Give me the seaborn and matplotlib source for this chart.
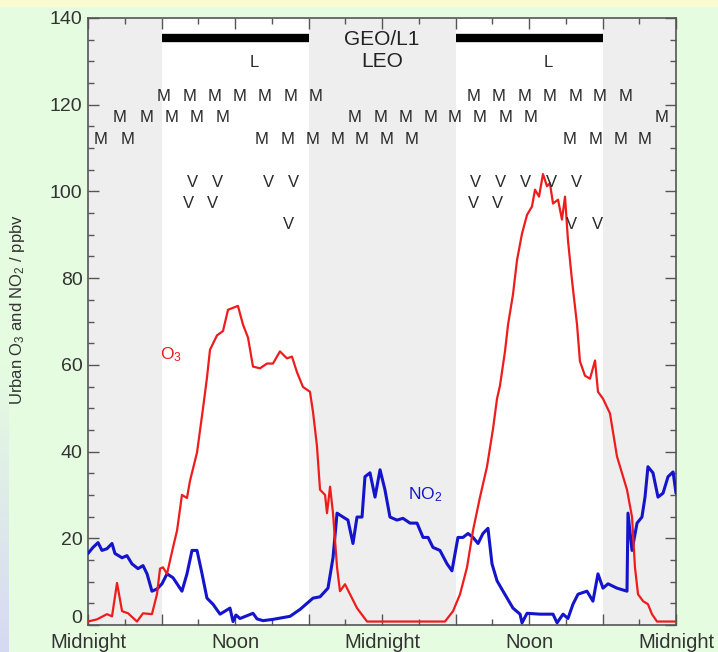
import numpy as np
import pandas as pd
import matplotlib
matplotlib.use("Agg")
import matplotlib.pyplot as plt
import seaborn as sns

# ---------------- data (hours from first midnight, ppbv) ----------------
o3_hours = [0, 0.73, 1.55, 1.96, 2.37, 2.78, 3.27, 4.0, 4.49, 5.22, 5.63, 5.88, 6.12, 6.45,
            6.94, 7.27, 7.67, 8.08, 8.33, 8.9, 9.39, 9.71, 9.96, 10.53, 11.02, 11.43, 12.24,
            12.65, 13.06, 13.47, 14.04, 14.61, 15.1, 15.67, 16.24, 16.65, 17.06, 17.55, 18.12,
            18.37, 18.69, 18.94, 19.35, 19.51, 19.76, 20.0, 20.33, 20.57, 20.98, 21.39, 21.96,
            22.78, 29.14, 29.8, 30.37, 30.94, 31.43, 32.0, 32.57, 33.06, 33.39, 33.63, 34.04,
            34.29, 34.69, 35.02, 35.43, 35.84, 36.24, 36.49, 36.82, 37.14, 37.47, 37.71, 37.96,
            38.37, 38.69, 38.94, 39.18, 39.51, 39.92, 40.16, 40.57, 40.98, 41.39, 41.63, 42.04,
            42.61, 43.18, 44.0, 44.41, 44.65, 44.9, 45.31, 45.71, 46.04, 46.45, 48.0]
o3_values = [0.8, 1.3, 2.5, 2.0, 9.7, 3.2, 2.7, 0.8, 2.7, 2.5, 7.1, 13.0, 13.3, 11.8,
             17.9, 21.8, 30.0, 29.3, 33.3, 39.8, 50.0, 57.0, 63.5, 66.8, 67.8, 72.7, 73.6,
             69.3, 66.3, 59.6, 59.2, 60.3, 60.3, 63.1, 61.5, 61.9, 58.3, 54.9, 53.8,
             49.1, 41.3, 31.2, 30.0, 25.8, 31.9, 25.8, 13.3, 7.8, 9.4, 7.1, 3.9,
             0.8, 0.8, 3.2, 7.1, 13.3, 21.8, 29.5, 36.5, 45.2, 52.2, 55.2, 63.1,
             69.3, 76.2, 84.1, 90.3, 94.6, 96.5, 100.4, 98.8, 104.0, 101.2, 101.9, 97.2,
             98.1, 93.5, 98.8, 88.8, 79.5, 69.3, 60.8, 57.5, 56.8, 61.0, 53.8, 52.2,
             48.8, 38.9, 31.2, 24.9, 13.3, 7.1, 5.5, 4.8, 2.5, 0.8, 0.8]

no2_hours = [0, 0.41, 0.82, 1.14, 1.55, 1.96, 2.2, 2.78, 3.18, 3.59, 4.08, 4.49, 4.82, 5.22,
             5.63, 6.04, 6.45, 6.94, 7.67, 8.08, 8.49, 8.9, 9.31, 9.71, 10.2, 10.78, 11.59,
             11.84, 12.08, 12.41, 13.47, 13.8, 14.29, 15.1, 16.49, 17.31, 18.37, 18.94, 19.59,
             20.0, 20.33, 20.82, 21.22, 21.63, 21.96, 22.37, 22.61, 23.02, 23.43, 23.84, 24.24,
             24.65, 25.22, 25.71, 26.29, 26.86, 27.35, 27.76, 28.16, 28.73, 29.31, 29.71, 30.2,
             30.61, 31.02, 31.43, 31.84, 32.24, 32.65, 32.98, 33.39, 33.88, 34.69, 35.27, 35.43,
             35.84, 36.9, 37.96, 38.29, 38.78, 39.18, 39.59, 40.0, 40.73, 41.22, 41.63, 42.04,
             42.45, 43.18, 44.0, 44.08, 44.41, 44.82, 45.22, 45.47, 45.71, 46.12, 46.53, 46.94,
             47.35, 47.76, 48.0]
no2_values = [16.5, 17.9, 19.0, 17.2, 17.6, 18.8, 16.5, 15.5, 16.0, 14.1, 13.0, 13.7, 11.8, 7.8,
              8.3, 9.5, 11.8, 10.9, 7.8, 11.8, 17.2, 17.2, 11.8, 6.2, 4.8, 2.5, 3.9,
              0.8, 2.3, 1.5, 2.7, 1.4, 1.0, 1.3, 2.0, 3.6, 6.2, 6.5, 8.5,
              15.5, 25.8, 24.9, 24.2, 18.8, 24.9, 24.9, 34.2, 35.1, 29.5, 35.8, 31.2,
              24.9, 24.2, 24.6, 23.5, 23.5, 20.2, 20.2, 17.9, 17.2, 14.1, 12.5, 20.2,
              20.2, 21.1, 20.2, 18.8, 21.1, 22.3, 14.1, 10.2, 7.8, 3.9, 2.5, 0.5,
              2.7, 2.5, 2.5, 0.5, 2.5, 1.5, 4.8, 7.1, 7.8, 5.5, 11.8, 8.5,
              9.5, 8.5, 7.8, 25.8, 17.2, 23.5, 24.9, 29.5, 36.5, 35.1, 29.5, 30.4,
              34.2, 35.3, 30.4]

night_start = [0, 18, 42]
night_end = [6, 30, 48]
geo_bar_start = [6, 30]
geo_bar_end = [18, 42]
tick_label_hours = [0, 12, 24, 36, 48]
tick_label_text = ["Midnight", "Noon", "Midnight", "Noon", "Midnight"]
y_tick_values = [0, 20, 40, 60, 80, 100, 120, 140]

m_row1 = [6.2, 8.25, 10.35, 12.4, 14.45, 16.5, 18.6, 31.5, 33.55, 35.65, 37.7, 39.8, 41.8, 43.85]
m_row2 = [2.6, 4.75, 6.85, 8.9, 11.0, 21.8, 23.85, 25.95, 28.0, 29.95, 32.0, 34.05, 36.1, 46.85]
m_row3 = [1.0, 3.2, 14.2, 16.25, 18.3, 20.35, 22.35, 24.4, 26.45, 39.35, 41.4, 43.45, 45.45]
v_row1 = [8.5, 10.55, 14.7, 16.75, 31.65, 33.7, 35.75, 37.85, 39.9]
v_row2 = [8.2, 10.2, 31.45, 33.4]
v_row3 = [16.35, 39.5, 41.55]
l_marks = [13.55, 37.55]

# ---------------- style ----------------
sns.set_theme(style="ticks")
plt.rcParams["font.family"] = ["Liberation Sans", "DejaVu Sans"]
plt.rcParams["mathtext.fontset"] = "custom"
plt.rcParams["mathtext.rm"] = "Liberation Sans"
plt.rcParams["mathtext.it"] = "Liberation Sans"

W, H = 718, 652
fig = plt.figure(figsize=(W / 100, H / 100), dpi=100)

# background (mint with yellow top strip and lavender left-bottom edge)
bg = fig.add_axes([0, 0, 1, 1], zorder=-10)
img = np.zeros((H, W, 3))
mint = np.array([0.90, 0.99, 0.88])
yellow = np.array([0.98, 0.99, 0.82])
lav = np.array([0.84, 0.85, 0.95])
img[:] = mint
img[:7, :] = yellow
t = np.clip((np.arange(H) - 360) / (H - 360), 0, 1)[:, None]
col = (1 - t) * mint + t * lav
img[:, :9] = col[:, None, :]
img[:7, :9] = yellow
bg.imshow(img, aspect="auto", extent=[0, 1, 0, 1])
bg.axis("off")

ax = fig.add_axes([88 / W, 1 - 625 / H, (676 - 88) / W, (625 - 18) / H])
ax.set_facecolor("white")

for s, e in zip(night_start, night_end):
    ax.axvspan(s, e, color="#eeeeee", lw=0, zorder=0)

df_o3 = pd.DataFrame({"hour": o3_hours, "ppbv": o3_values})
df_no2 = pd.DataFrame({"hour": no2_hours, "ppbv": no2_values})
sns.lineplot(data=df_no2, x="hour", y="ppbv", ax=ax, color="#1414cc", linewidth=2.2,
             estimator=None, sort=False, zorder=3)
sns.lineplot(data=df_o3, x="hour", y="ppbv", ax=ax, color="#ee1c1c", linewidth=1.6,
             estimator=None, sort=False, zorder=4)

ax.set_xlim(0, 48)
ax.set_ylim(0, 140)

# satellite bars and labels
for s, e in zip(geo_bar_start, geo_bar_end):
    ax.plot([s, e], [135.3, 135.3], color="black", lw=6, solid_capstyle="butt", zorder=5)
ax.text(24, 135.1, "GEO/L1", ha="center", va="center", fontsize=15, color="#222222")
ax.text(24, 130.0, "LEO", ha="center", va="center", fontsize=15, color="#222222")

mk = dict(ha="center", va="center", fontsize=12, color="#2a2a2a", zorder=6)
for h in l_marks:
    ax.text(h, 129.8, "L", **mk)
for h in m_row1:
    ax.text(h, 121.8, "M", **mk)
for h in m_row2:
    ax.text(h, 117.0, "M", **mk)
for h in m_row3:
    ax.text(h, 111.9, "M", **mk)
for h in v_row1:
    ax.text(h, 102.0, "V", **mk)
for h in v_row2:
    ax.text(h, 97.2, "V", **mk)
for h in v_row3:
    ax.text(h, 92.4, "V", **mk)

ax.text(5.9, 62.4, r"O$_3$", color="#ee1c1c", fontsize=12.5, ha="left", va="center")
ax.text(26.1, 30.0, r"NO$_2$", color="#1414cc", fontsize=12.5, ha="left", va="center")

# axes styling
ax.set_xticks(list(range(0, 49, 6)))
ax.set_xticks(list(range(0, 49, 3)), minor=True)
lab = []
for h in range(0, 49, 6):
    lab.append(tick_label_text[tick_label_hours.index(h)] if h in tick_label_hours else "")
ax.set_xticklabels(lab)
ax.set_yticks(y_tick_values)
ax.set_yticklabels([""] + [str(v) for v in y_tick_values[1:]])
ax.set_yticks(list(range(0, 141, 5)), minor=True)
ax.tick_params(which="both", direction="in", top=True, right=True, colors="#555555",
               labelcolor="#333333", width=1)
ax.tick_params(which="major", length=8)
ax.tick_params(which="minor", length=4)
ax.tick_params(axis="x", labelsize=14.5, pad=6)
ax.tick_params(axis="y", labelsize=14, pad=4)
# the "0" label is raised slightly, as in the original, to clear "Midnight"
ax.annotate(str(y_tick_values[0]), xy=(0, 0), xycoords="axes fraction",
            xytext=(-4, 5), textcoords="offset points", ha="right", va="center",
            fontsize=14, color="#333333")
ax.set_xlabel("")
ax.set_ylabel("")
for sp in ax.spines.values():
    sp.set_visible(True)
    sp.set_color("#555555")
    sp.set_linewidth(1.2)

fig.text(18 / W, 1 - 310 / H, r"Urban O$_3$ and NO$_2$ / ppbv", rotation=90,
         ha="center", va="center", fontsize=12, color="#333333")

fig.savefig("out.png", dpi=100)
